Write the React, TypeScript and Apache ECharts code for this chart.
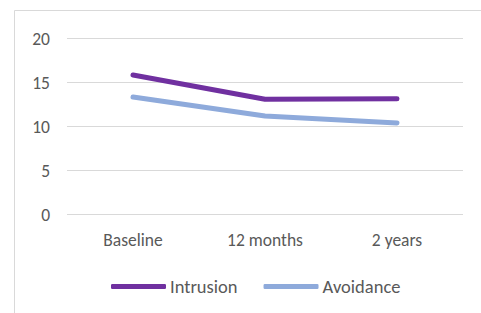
import React, { useEffect, useRef } from "react";
import * as echarts from "echarts";

const categories = ["Baseline", "12 months", "2 years"];
const intrusion = [15.85, 13.1, 13.15];
const avoidance = [13.35, 11.2, 10.4];

export default function App() {
  const ref = useRef<HTMLDivElement>(null);
  useEffect(() => {
    const chart = echarts.init(ref.current!, null, { renderer: "svg" });
    const font = "Carlito, Lato, 'Open Sans', sans-serif";
    chart.setOption({
      animation: false,
      backgroundColor: "#ffffff",
      graphic: [
        {
          type: "rect",
          shape: { x: 14.5, y: 10.5, width: 520, height: 400 },
          style: { fill: "none", stroke: "#d9d9d9", lineWidth: 1 },
          z: -1,
        },
      ],
      grid: { left: 67, right: 18, top: 38.5, bottom: 98.5, containLabel: false },
      xAxis: {
        type: "category",
        data: categories,
        boundaryGap: true,
        axisLine: { show: false },
        axisTick: { show: false },
        axisLabel: { color: "#595959", fontSize: 17.5, fontFamily: font, margin: 16 },
      },
      yAxis: {
        type: "value",
        min: 0,
        max: 20,
        interval: 5,
        axisLine: { show: false },
        axisTick: { show: false },
        splitLine: { lineStyle: { color: "#d9d9d9", width: 1 } },
        axisLabel: { color: "#595959", fontSize: 17.5, fontFamily: font, margin: 17 },
      },
      legend: {
        bottom: 12,
        left: 106,
        itemWidth: 55,
        itemHeight: 5,
        itemGap: 26,
        icon: "roundRect",
        textStyle: { color: "#595959", fontSize: 18.5, fontFamily: font, padding: [0, 0, 0, -1] },
        data: ["Intrusion", "Avoidance"],
      },
      series: [
        {
          name: "Intrusion",
          type: "line",
          data: intrusion,
          symbol: "none",
          color: "#7030a0",
          lineStyle: { width: 5, color: "#7030a0", cap: "round", join: "round" },
        },
        {
          name: "Avoidance",
          type: "line",
          data: avoidance,
          symbol: "none",
          color: "#8eaadb",
          lineStyle: { width: 5, color: "#8eaadb", cap: "round", join: "round" },
        },
      ],
    });
    return () => chart.dispose();
  }, []);
  return (
    <div
      ref={ref}
      style={{ position: "fixed", left: 0, top: 0, width: 481, height: 313 }}
    />
  );
}
